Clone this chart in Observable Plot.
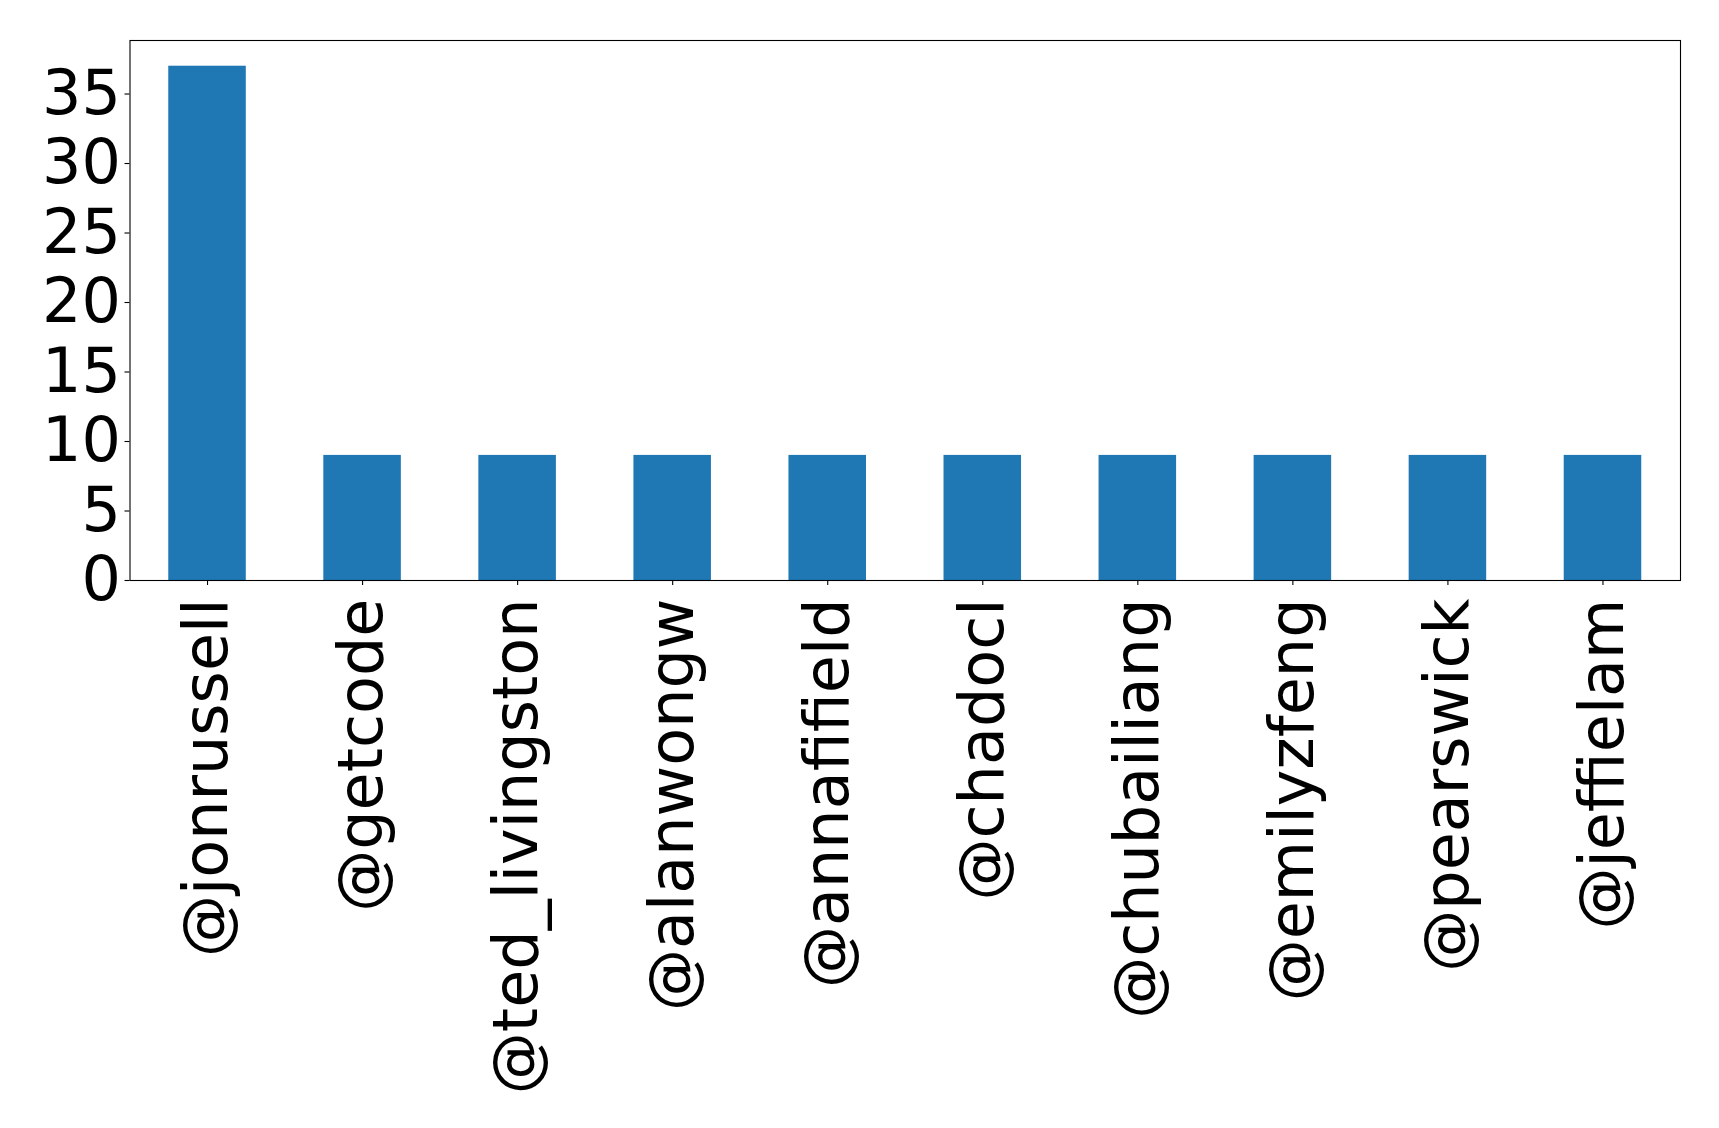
<!DOCTYPE html>
<html>
<head>
<meta charset="utf-8">
<script src="https://cdn.jsdelivr.net/npm/d3@7"></script>
<script src="https://cdn.jsdelivr.net/npm/@observablehq/plot@0.6"></script>
<style>
  html, body { margin: 0; padding: 0; background: white; }
  svg { display: block; }
</style>
</head>
<body>
<div id="chart"></div>
<script>
const names = ["@jonrussell", "@getcode", "@ted_livingston", "@alanwongw", "@annafifield",
               "@chadocl", "@chubailiang", "@emilyzfeng", "@pearswick", "@jeffielam"];
const counts = [37, 9, 9, 9, 9, 9, 9, 9, 9, 9];
const yTicks = [0, 5, 10, 15, 20, 25, 30, 35];

const data = names.map((n, i) => ({name: n, count: counts[i]}));
const font = "DejaVu Sans";
const fs = 62;

const chart = Plot.plot({
  width: 1719,
  height: 1128,
  marginLeft: 129.5,
  marginRight: 39,
  marginTop: 40,
  marginBottom: 548,
  style: {fontFamily: font, background: "white", color: "black"},
  x: {domain: names, paddingInner: 0.5, paddingOuter: 0.25, round: false, axis: null},
  y: {domain: [0, 38.85], axis: null},
  marks: [
    Plot.barY(data, {x: "name", y: "count", fill: "#1f77b4"}),
    Plot.axisY({ticks: yTicks, tickSize: 5, tickPadding: 4, fontSize: fs, stroke: "black", fill: "black", strokeWidth: 1.1, label: null}),
    Plot.axisX({tickSize: 5, tickFormat: () => "", stroke: "black", strokeWidth: 1.1, label: null}),
    Plot.text(names, {x: d => d, y: () => 0, dy: 18, rotate: -90, textAnchor: "end", lineAnchor: "middle", fontSize: fs, fill: "black"}),
    Plot.frame({stroke: "black", strokeWidth: 1.1})
  ]
});
document.getElementById("chart").appendChild(chart);
</script>
</body>
</html>
